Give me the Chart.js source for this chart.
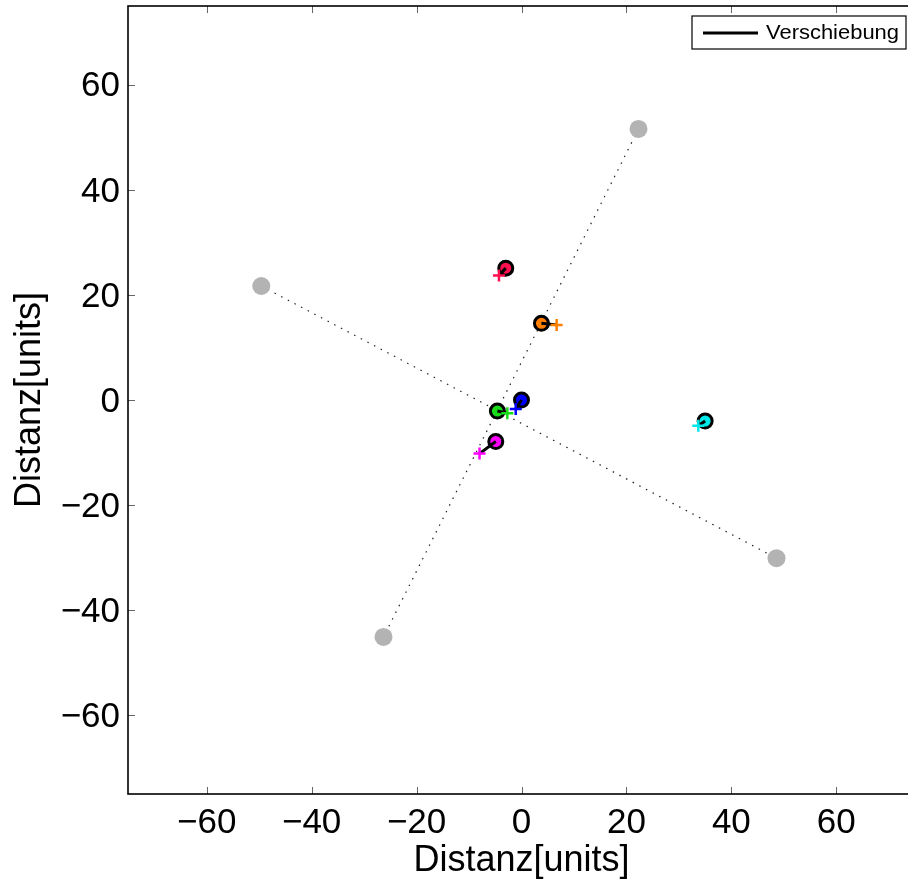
<!DOCTYPE html>
<html>
<head>
<meta charset="utf-8">
<script src="https://cdn.jsdelivr.net/npm/chart.js@4.4.1/dist/chart.umd.min.js"></script>
<style>
  html, body { margin: 0; padding: 0; background: #fff; overflow: hidden; }
  #wrap { width: 908px; height: 881px; overflow: hidden; position: relative; }
  #inner { width: 920px; height: 881px; position: absolute; left: 0; top: 0; }
</style>
</head>
<body>
<div id="wrap"><div id="inner"><canvas id="plot"></canvas></div></div>
<script>
// Axis setup
const axisMin = -75;
const axisMax = 75;
const tickValues = [-60, -40, -20, 0, 20, 40, 60];

// Grey anchor points (ends of the two dotted lines)
const anchorX = [22.3, -26.3, -49.6, 48.6];
const anchorY = [51.6, -45.1, 21.7, -30.1];
const dottedPairs = [[0, 1], [2, 3]];

// Measured positions (circles) and target positions (crosses)
const markerColors = ['#ff1150', '#ff8000', '#0000ff', '#18dc18', '#ff00ff', '#00e8e8'];
const circleX = [-3.0, 3.8, 0.0, -4.6, -4.9, 35.0];
const circleY = [25.1, 14.6, 0.0, -2.1, -7.9, -4.0];
const crossX = [-4.3, 6.7, -1.1, -2.7, -8.0, 33.7];
const crossY = [23.7, 14.3, -1.7, -2.5, -10.2, -4.9];

const legendLabel = 'Verschiebung';
const axisTitle = 'Distanz[units]';

const FONT = "'Liberation Sans', Arial, Helvetica, sans-serif";

const datasets = [];

// displacement lines (circle -> cross)
circleX.forEach((cx, i) => {
    datasets.push({
        label: i === 0 ? legendLabel : '',
        type: 'scatter',
        showLine: true,
        data: [{ x: cx, y: circleY[i] }, { x: crossX[i], y: crossY[i] }],
        borderColor: '#000',
        borderWidth: 3,
        pointRadius: 0,
        order: 2
    });
});

// crosses on top
datasets.push({
    label: 'cross',
    type: 'scatter',
    data: crossX.map((x, i) => ({ x: x, y: crossY[i] })),
    pointStyle: 'cross',
    pointRadius: 6,
    pointBorderWidth: 2.5,
    pointBorderColor: markerColors,
    order: 1
});

// circles
datasets.push({
    label: 'circle',
    type: 'scatter',
    data: circleX.map((x, i) => ({ x: x, y: circleY[i] })),
    pointStyle: 'circle',
    pointRadius: 7,
    pointBorderWidth: 3,
    pointBackgroundColor: markerColors,
    pointBorderColor: '#000',
    order: 3
});

// grey anchors
datasets.push({
    label: 'anchor',
    type: 'scatter',
    data: anchorX.map((x, i) => ({ x: x, y: anchorY[i] })),
    pointRadius: 9,
    pointBorderWidth: 0,
    pointBackgroundColor: '#b3b3b3',
    pointBorderColor: '#b3b3b3',
    order: 4
});

// dotted lines between anchors
dottedPairs.forEach(p => {
    datasets.push({
        label: 'dotted',
        type: 'scatter',
        showLine: true,
        data: p.map(k => ({ x: anchorX[k], y: anchorY[k] })),
        borderColor: '#222',
        borderWidth: 1.2,
        borderDash: [1.5, 6],
        pointRadius: 0,
        order: 5
    });
});

const minusLabel = v => (v < 0 ? '\u2212' + Math.abs(v) : String(v));

// frame, inward ticks and the boxed legend
const framePlugin = {
    id: 'frame',
    afterDatasetsDraw(chart) {
        const ctx = chart.ctx;
        const a = chart.chartArea;
        const xs = chart.scales.x, ys = chart.scales.y;
        ctx.save();
        ctx.strokeStyle = '#666';
        ctx.lineWidth = 1;
        tickValues.forEach(v => {
            const px = Math.round(xs.getPixelForValue(v)) + 0.5;
            ctx.beginPath();
            ctx.moveTo(px, a.bottom); ctx.lineTo(px, a.bottom - 7);
            ctx.moveTo(px, a.top); ctx.lineTo(px, a.top + 7);
            ctx.stroke();
            const py = Math.round(ys.getPixelForValue(v)) + 0.5;
            ctx.beginPath();
            ctx.moveTo(a.left, py); ctx.lineTo(a.left + 7, py);
            ctx.moveTo(a.right, py); ctx.lineTo(a.right - 7, py);
            ctx.stroke();
        });
        ctx.strokeStyle = '#000';
        ctx.lineWidth = 1.6;
        ctx.strokeRect(a.left, a.top, a.right - a.left, a.bottom - a.top);

        // legend box
        const bx = a.right - 223, by = a.top + 10, bw = 214, bh = 33;
        ctx.fillStyle = '#fff';
        ctx.fillRect(bx, by, bw, bh);
        ctx.lineWidth = 1.2;
        ctx.strokeRect(bx, by, bw, bh);
        ctx.lineWidth = 3;
        ctx.beginPath();
        ctx.moveTo(bx + 11, by + 17);
        ctx.lineTo(bx + 66, by + 17);
        ctx.stroke();
        ctx.font = '20px ' + FONT;
        ctx.fillStyle = '#000';
        ctx.textBaseline = 'alphabetic';
        const w = ctx.measureText(legendLabel).width;
        const sx = 133 / w;
        ctx.translate(bx + 74, by + 23);
        ctx.scale(sx, 1);
        ctx.fillText(legendLabel, 0, 0);
        ctx.restore();
    }
};

new Chart(document.getElementById('plot'), {
    type: 'scatter',
    data: { datasets: datasets },
    plugins: [framePlugin],
    options: {
        responsive: true,
        maintainAspectRatio: false,
        animation: false,
        devicePixelRatio: 1,
        layout: { autoPadding: false, padding: { top: 6, right: 5, left: 0, bottom: 0 } },
        plugins: {
            legend: { display: false },
            tooltip: { enabled: false }
        },
        scales: {
            x: {
                type: 'linear',
                min: axisMin,
                max: axisMax,
                afterBuildTicks: s => { s.ticks = tickValues.map(v => ({ value: v })); },
                afterFit: s => { s.height = 87; s.paddingLeft = 0; s.paddingRight = 0; },
                grid: { display: false, drawTicks: false },
                border: { display: false },
                ticks: {
                    color: '#000',
                    padding: 8,
                    maxRotation: 0,
                    font: { family: FONT, size: 35 },
                    callback: minusLabel
                },
                title: {
                    display: true,
                    text: axisTitle,
                    color: '#000',
                    font: { family: FONT, size: 36 },
                    padding: { top: 0, bottom: -2 }
                }
            },
            y: {
                type: 'linear',
                min: axisMin,
                max: axisMax,
                afterBuildTicks: s => { s.ticks = tickValues.map(v => ({ value: v })); },
                afterFit: s => { s.width = 128; s.paddingTop = 0; s.paddingBottom = 0; },
                grid: { display: false, drawTicks: false },
                border: { display: false },
                ticks: {
                    color: '#000',
                    padding: 8,
                    labelOffset: 2,
                    font: { family: FONT, size: 35 },
                    callback: minusLabel
                },
                title: {
                    display: true,
                    text: axisTitle,
                    color: '#000',
                    font: { family: FONT, size: 36 },
                    padding: { top: 8, bottom: 0 }
                }
            }
        }
    }
});
</script>
</body>
</html>
